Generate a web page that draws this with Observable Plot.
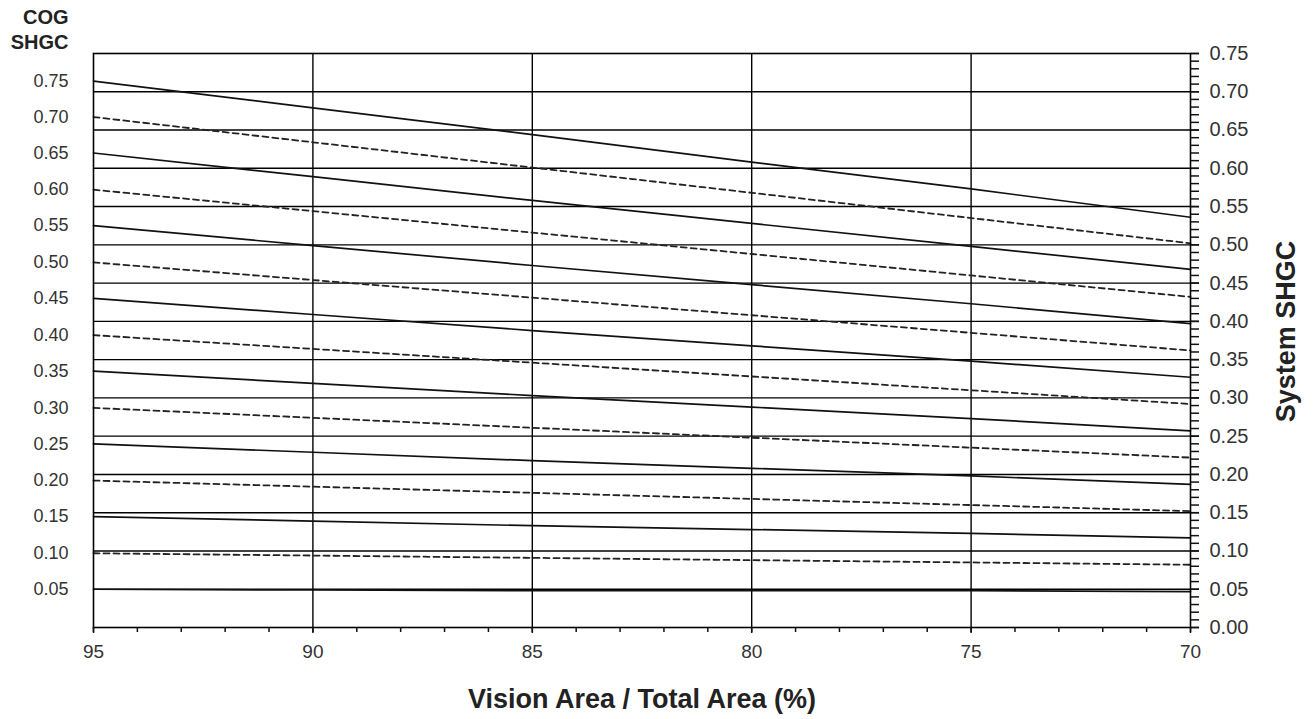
<!DOCTYPE html>
<html>
<head>
<meta charset="utf-8">
<script src="https://cdn.jsdelivr.net/npm/d3@7"></script>
<script src="https://cdn.jsdelivr.net/npm/@observablehq/plot@0.6"></script>
<style>
  html, body { margin: 0; padding: 0; background: #fff; overflow: hidden; }
  #chart svg { display: block; }
</style>
</head>
<body>
<div id="chart"></div>
<script>
// Vision area / total area (%) sample points
const visionArea = [95, 90, 85, 80, 75, 70];
// Centre-of-glass SHGC for each curve
const cogShgc = [0.75, 0.70, 0.65, 0.60, 0.55, 0.50, 0.45, 0.40, 0.35, 0.30, 0.25, 0.20, 0.15, 0.10, 0.05];
// System SHGC read at each vision-area point
const sys075 = [0.714, 0.679, 0.644, 0.608, 0.573, 0.536];
const sys070 = [0.667, 0.634, 0.601, 0.568, 0.535, 0.502];
const sys065 = [0.620, 0.589, 0.558, 0.528, 0.498, 0.468];
const sys060 = [0.572, 0.544, 0.516, 0.488, 0.460, 0.432];
const sys055 = [0.525, 0.499, 0.473, 0.448, 0.423, 0.397];
const sys050 = [0.477, 0.454, 0.431, 0.408, 0.385, 0.362];
const sys045 = [0.430, 0.409, 0.388, 0.368, 0.348, 0.327];
const sys040 = [0.382, 0.364, 0.346, 0.328, 0.310, 0.292];
const sys035 = [0.335, 0.319, 0.303, 0.288, 0.273, 0.257];
const sys030 = [0.287, 0.274, 0.261, 0.248, 0.235, 0.222];
const sys025 = [0.240, 0.229, 0.218, 0.208, 0.198, 0.187];
const sys020 = [0.192, 0.184, 0.176, 0.168, 0.160, 0.152];
const sys015 = [0.145, 0.139, 0.133, 0.128, 0.123, 0.117];
const sys010 = [0.097, 0.094, 0.091, 0.088, 0.085, 0.082];
const sys005 = [0.050, 0.049, 0.048, 0.048, 0.048, 0.047];
// Axis ticks
const xMajorTicks = [95, 90, 85, 80, 75, 70];
const xMinorTicks = d3.range(70, 96, 1);
const yMajorTicks = [0, 0.05, 0.10, 0.15, 0.20, 0.25, 0.30, 0.35, 0.40, 0.45, 0.50, 0.55, 0.60, 0.65, 0.70, 0.75];
const yMinorTicks = d3.range(0, 76, 1).map(d => d / 100);
const xGrid = [90, 85, 80, 75];
const yGrid = [0.05, 0.10, 0.15, 0.20, 0.25, 0.30, 0.35, 0.40, 0.45, 0.50, 0.55, 0.60, 0.65, 0.70];

const seriesList = [sys075, sys070, sys065, sys060, sys055, sys050, sys045, sys040,
                    sys035, sys030, sys025, sys020, sys015, sys010, sys005];

const rows = [];
seriesList.forEach((s, i) => {
  s.forEach((v, j) => rows.push({cog: cogShgc[i], idx: i, va: visionArea[j], sys: v}));
});
const starts = seriesList.map((s, i) => ({cog: cogShgc[i], va: visionArea[0], sys: s[0]}));

const FONT = "'Liberation Sans', Arial, Helvetica, sans-serif";

const chart = Plot.plot({
  width: 1313,
  height: 719,
  marginLeft: 93,
  marginRight: 123,
  marginTop: 53,
  marginBottom: 92,
  style: {fontFamily: FONT, background: "#fff", color: "#111"},
  x: {domain: [95, 70], axis: null},
  y: {domain: [0, 0.75], axis: null},
  marks: [
    Plot.ruleY(yGrid, {stroke: "#000", strokeWidth: 1.4}),
    Plot.ruleX(xGrid, {stroke: "#000", strokeWidth: 1.4}),
    Plot.line(rows.filter(d => d.idx % 2 === 0), {x: "va", y: "sys", z: "cog", stroke: "#111", strokeWidth: 1.7}),
    Plot.line(rows.filter(d => d.idx % 2 === 1), {x: "va", y: "sys", z: "cog", stroke: "#222", strokeWidth: 1.8, strokeDasharray: "6,4"}),
    Plot.frame({stroke: "#000", strokeWidth: 1.6}),
    // x axis
    Plot.axisX({ticks: xMinorTicks, tickSize: 5, tickFormat: () => "", label: null, strokeWidth: 1.5}),
    Plot.axisX({ticks: xMajorTicks, tickSize: 6, tickPadding: 11, fontSize: 19, fill: "#333", label: null, strokeWidth: 1.5, tickFormat: d => String(d)}),
    // right y axis
    Plot.axisY({anchor: "right", ticks: yMinorTicks, tickSize: 8, tickFormat: () => "", label: null, strokeWidth: 1.5}),
    Plot.axisY({anchor: "right", ticks: yMajorTicks, tickSize: 8, tickPadding: 11, fontSize: 20, fill: "#333", label: null, strokeWidth: 1.5, tickFormat: d3.format(".2f")}),
    // left COG labels at the start of each curve
    Plot.text(starts, {x: "va", y: "sys", text: d => d3.format(".2f")(d.cog), dx: -25, textAnchor: "end", fontSize: 18, fill: "#333"}),
    // titles
    Plot.text(["COG\nSHGC"], {frameAnchor: "top-left", dx: -25, dy: -5, textAnchor: "end", lineAnchor: "bottom", lineHeight: 1.22, fontSize: 20, fontWeight: "bold", fill: "#222"}),
    Plot.text(["System SHGC"], {frameAnchor: "right", dx: 96, dy: -9, rotate: -90, textAnchor: "middle", fontSize: 27, fontWeight: "bold", fill: "#222"}),
    Plot.text(["Vision Area / Total Area (%)"], {frameAnchor: "bottom", dy: 80, textAnchor: "middle", fontSize: 27, fontWeight: "bold", fill: "#222"})
  ]
});

document.getElementById("chart").appendChild(chart);
</script>
</body>
</html>
